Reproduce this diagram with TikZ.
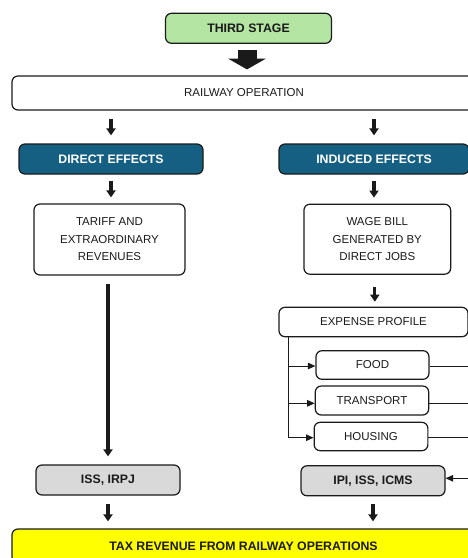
\documentclass[tikz,border=0pt]{standalone}
\usepackage{fontspec}
\setmainfont{Liberation Sans}
\usetikzlibrary{arrows.meta,calc}

\definecolor{stagegreen}{HTML}{B4E5A2}
\definecolor{effectblue}{HTML}{156082}
\definecolor{taxgray}{HTML}{D9D9D9}
\definecolor{taxyellow}{HTML}{FFFF00}
\definecolor{ink}{HTML}{1A1A1A}

\tikzset{
  box/.style={draw=ink, line width=1.2pt, rounded corners=6pt, align=center,
    inner sep=2pt, text=ink, font=\fontsize{11.5}{17.5}\selectfont},
  boldbox/.style={box, font=\fontsize{12.3}{14}\selectfont\bfseries},
  effect/.style={boldbox, fill=effectblue, text=white, draw=ink},
  downarrow/.style={draw=ink, line width=3.1pt,
    -{Triangle[width=9pt,length=7pt]}},
  branch/.style={draw=ink, line width=1pt},
  brancharrow/.style={branch, -{Triangle[width=6.5pt,length=7.5pt]}},
  bigarrow/.style={draw=ink, line width=19pt,
    -{Triangle[width=37pt,length=10.7pt]}}
}

\begin{document}
\begin{tikzpicture}[x=1pt,y=-1pt]
\useasboundingbox (0,0) rectangle (467,558);

% stage header and operation band
\node[boldbox, fill=stagegreen, minimum width=166pt, minimum height=30pt]
  (third) at (248.5,28.3) {THIRD STAGE};
\node[box, minimum width=464pt, minimum height=34pt]
  (rail) at (244,93) {RAILWAY OPERATION};

% the two effect columns
\node[effect, minimum width=184pt, minimum height=30pt]
  (direct) at (111,159) {DIRECT EFFECTS};
\node[effect, minimum width=190pt, minimum height=30pt]
  (induced) at (374,159) {INDUCED EFFECTS};

\node[box, minimum width=151pt, minimum height=71pt]
  (tariff) at (109.5,239.5) {TARIFF AND\\EXTRAORDINARY\\REVENUES};
\node[box, minimum width=146.7pt, minimum height=70pt]
  (wage) at (377.3,239.2) {WAGE BILL\\GENERATED BY\\DIRECT JOBS};

\node[box, minimum width=189pt, minimum height=29.4pt]
  (expense) at (373.5,322) {EXPENSE PROFILE};
\node[box, minimum width=113pt, minimum height=28.6pt]
  (food) at (372.5,365) {FOOD};
\node[box, minimum width=113.4pt, minimum height=29pt]
  (transport) at (372,400.5) {TRANSPORT};
\node[box, minimum width=113.7pt, minimum height=28.4pt]
  (housing) at (371,436.5) {HOUSING};

% taxes
\node[boldbox, fill=taxgray, minimum width=144pt, minimum height=30pt]
  (iss) at (108,480) {ISS, IRPJ};
\node[boldbox, fill=taxgray, minimum width=144pt, minimum height=30pt]
  (ipi) at (373,480.8) {IPI, ISS, ICMS};
\node[boldbox, fill=taxyellow, minimum width=463pt, minimum height=34pt]
  (tax) at (243.5,546) {TAX REVENUE FROM RAILWAY OPERATIONS};

% bus lines of the expense profile and arrow anchors
\coordinate (busL) at (288.3,0);
\coordinate (busR) at (476,0);
\coordinate (stageout) at ($(third.south)+(-1.5,0)$);
\coordinate (tariffout) at ($(tariff.south)+(-1.5,0)$);
\coordinate (wageout) at ($(wage.south)+(-2.5,0)$);

% connectors
\draw[bigarrow, shorten <=6pt, shorten >=6pt]
  (stageout) -- (stageout |- rail.north);

\draw[downarrow, shorten <=8pt, shorten >=8pt]
  (direct.north |- rail.south) -- (direct.north);
\draw[downarrow, shorten <=8pt, shorten >=8pt]
  (induced.north |- rail.south) -- (induced.north);

\draw[downarrow, shorten <=6pt, shorten >=6pt]
  (direct.south) -- (direct.south |- tariff.north);
\draw[downarrow, shorten <=6pt, shorten >=6pt]
  (induced.south) -- (induced.south |- wage.north);

\draw[downarrow, shorten <=8pt, shorten >=8pt]
  (tariffout) -- (tariffout |- iss.north);
\draw[downarrow, shorten <=12.5pt, shorten >=5pt]
  (wageout) -- (wageout |- expense.north);

\draw[branch] (busL |- expense.south) -- ($(busL |- housing.west)+(0,1.2)$);
\draw[brancharrow] ($(busL |- food.west)+(0,1)$) -- ($(food.west)+(0,1)$);
\draw[brancharrow] ($(busL |- transport.west)+(0,2.8)$) -- ($(transport.west)+(0,2.8)$);
\draw[brancharrow] ($(busL |- housing.west)+(0,1.2)$) -- ($(housing.west)+(0,1.2)$);

\draw[branch] ($(food.east)+(0,1)$) -- ($(busR |- food.east)+(0,1)$);
\draw[branch] ($(transport.east)+(0,2.8)$) -- ($(busR |- transport.east)+(0,2.8)$);
\draw[branch] ($(housing.east)+(0,1.2)$) -- ($(busR |- housing.east)+(0,1.2)$);
\draw[brancharrow] ($(busR |- food.east)+(0,1)$) -- ($(busR |- ipi.east)+(0,-2.5)$)
  -- ($(ipi.east)+(0,-2.5)$);

\draw[downarrow, shorten <=8pt, shorten >=7pt]
  (iss.south) -- (iss.south |- tax.north);
\draw[downarrow, shorten <=8pt, shorten >=7pt]
  (ipi.south) -- (ipi.south |- tax.north);
\end{tikzpicture}
\end{document}
